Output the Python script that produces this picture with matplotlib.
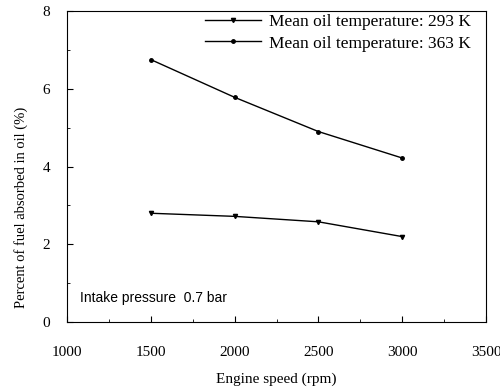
import matplotlib
matplotlib.use("Agg")
import matplotlib.pyplot as plt
from matplotlib.ticker import MultipleLocator

speed = [1500, 2000, 2500, 3000]
fuel_293 = [2.80, 2.72, 2.58, 2.20]
fuel_363 = [6.75, 5.78, 4.90, 4.22]
labels = ["Mean oil temperature: 293 K", "Mean oil temperature: 363 K"]

plt.rcParams['font.family'] = ['Liberation Serif', 'DejaVu Serif']
fig = plt.figure(figsize=(5, 3.91), dpi=100)
ax = fig.add_axes([0.134, 0.176, 0.838, 0.796])

ax.plot(speed, fuel_293, color='black', lw=1.0, marker='v', ms=3, label=labels[0])
ax.plot(speed, fuel_363, color='black', lw=1.0, marker='o', ms=2.5, label=labels[1])

ax.set_xlim(1000, 3500)
ax.set_ylim(0, 8)
ax.xaxis.set_major_locator(MultipleLocator(500))
ax.xaxis.set_minor_locator(MultipleLocator(250))
ax.yaxis.set_major_locator(MultipleLocator(2))
ax.yaxis.set_minor_locator(MultipleLocator(1))
ax.tick_params(which='both', direction='in', labelsize=11)
ax.tick_params(which='major', length=4)
ax.tick_params(which='minor', length=2.5)
ax.tick_params(axis='x', pad=17)
ax.tick_params(axis='y', pad=12)

ax.set_xlabel("Engine speed (rpm)", fontsize=11, labelpad=10)
ax.set_ylabel("Percent of fuel absorbed in oil (%)", fontsize=10.5)
ax.yaxis.set_label_coords(-0.093, 0.37)

ax.legend(loc='upper right', bbox_to_anchor=(0.965, 0.99), frameon=False,
          fontsize=12.5, handlelength=3.2, borderaxespad=0.0, borderpad=0.0,
          labelspacing=0.3, handletextpad=0.5)
ax.text(0.03, 0.065, "Intake pressure  0.7 bar", transform=ax.transAxes,
        fontsize=10, family=['Liberation Sans', 'DejaVu Sans'])

fig.savefig("out.png", dpi=100)
